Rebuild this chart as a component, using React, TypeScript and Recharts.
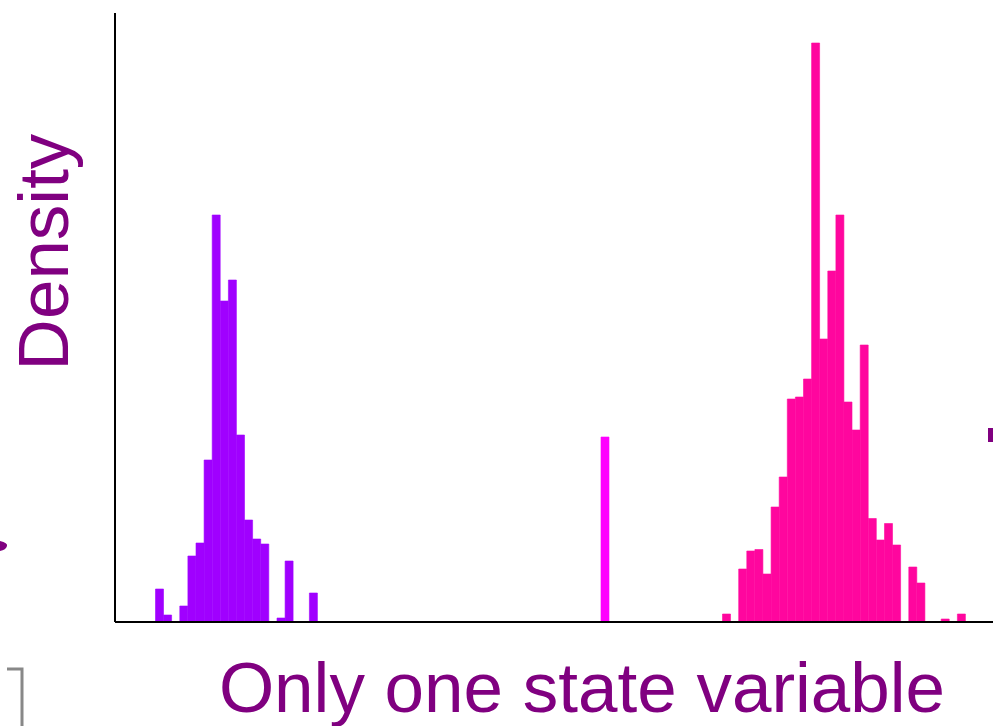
import React from 'react';
import { BarChart, Bar, XAxis, YAxis } from 'recharts';

// histogram bins (density, arbitrary units)
const BIN_COUNT = 110;

const purpleStart = 5;
const purpleDensity = [
  0.033, 0.007, 0, 0.016, 0.066, 0.079, 0.162, 0.407, 0.321, 0.342,
  0.187, 0.102, 0.083, 0.078, 0, 0.004, 0.061, 0, 0, 0.029,
];

const magentaStart = 60;
const magentaDensity = [0.185];

const pinkStart = 75;
const pinkDensity = [
  0.008, 0, 0.053, 0.071, 0.0725, 0.048, 0.115, 0.145, 0.223, 0.225,
  0.243, 0.579, 0.283, 0.351, 0.407, 0.22, 0.192, 0.277, 0.1035, 0.082,
  0.0985, 0.077, 0, 0.055, 0.039, 0, 0, 0.003, 0, 0.008,
];

const pick = (arr: number[], start: number, i: number) =>
  i >= start && i < start + arr.length ? arr[i - start] : 0;

const data = Array.from({ length: BIN_COUNT }, (_, i) => ({
  bin: i,
  purple: pick(purpleDensity, purpleStart, i),
  magenta: pick(magentaDensity, magentaStart, i),
  pink: pick(pinkDensity, pinkStart, i),
}));

const LABEL = '#800080';
const FONT = '"Liberation Sans", Arial, sans-serif';
const PURPLE = '#A000FF';
const MAGENTA = '#FF00FF';
const PINK = '#FF069E';

const App: React.FC = () => {
  return (
    <div
      style={{
        position: 'absolute',
        left: 0,
        top: 0,
        width: 993,
        height: 726,
        overflow: 'hidden',
        background: '#fff',
      }}
    >
      <BarChart
        width={1006}
        height={726}
        data={data}
        margin={{ top: 13, right: 0, bottom: 100, left: 105 }}
        barCategoryGap={0}
        barGap={0}
      >
        <XAxis
          dataKey="bin"
          height={4}
          tick={false}
          tickLine={false}
          axisLine={{ stroke: '#000', strokeWidth: 2 }}
        />
        <YAxis
          width={10}
          domain={[0, 0.609]}
          tick={false}
          tickLine={false}
          axisLine={{ stroke: '#000', strokeWidth: 2 }}
        />
        <Bar dataKey="purple" stackId="h" fill={PURPLE} stroke={PURPLE} strokeWidth={0.6} isAnimationActive={false} />
        <Bar dataKey="magenta" stackId="h" fill={MAGENTA} stroke={MAGENTA} strokeWidth={0.6} isAnimationActive={false} />
        <Bar dataKey="pink" stackId="h" fill={PINK} stroke={PINK} strokeWidth={0.6} isAnimationActive={false} />
      </BarChart>

      <svg
        width={993}
        height={726}
        style={{ position: 'absolute', left: 0, top: 0, pointerEvents: 'none' }}
      >
        <text
          transform="translate(68, 252) rotate(-90)"
          textAnchor="middle"
          fontFamily={FONT}
          fontSize={71}
          fill={LABEL}
        >
          Density
        </text>
        <text
          x={582}
          y={712}
          textAnchor="middle"
          fontFamily={FONT}
          fontSize={71}
          fill={LABEL}
        >
          Only one state variable
        </text>
        {/* bits of the neighbouring panels cut off at the edges */}
        <path d="M0,541 Q8,543 7,546 Q6,550 0,551 Z" fill={LABEL} />
        <rect x={988} y={428} width={5} height={14} fill={LABEL} />
        <path d="M7,669 H22 V726" fill="none" stroke="#888" strokeWidth={3} />
      </svg>
    </div>
  );
};

export default App;
